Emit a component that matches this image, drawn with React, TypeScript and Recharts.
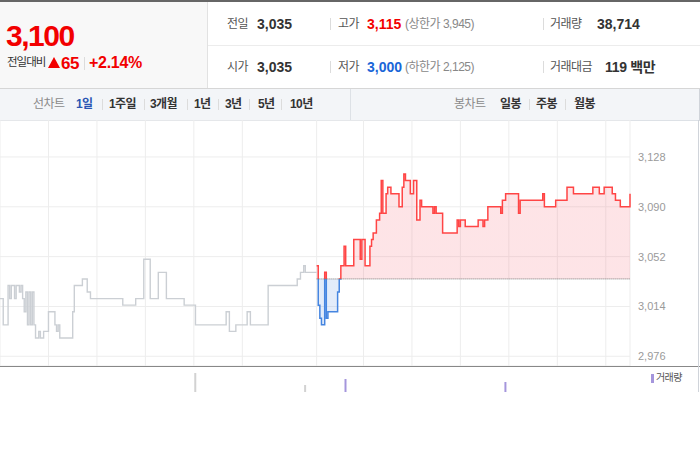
import React from "react";
import {
  Area,
  Bar,
  CartesianGrid,
  Cell,
  ComposedChart,
  Line,
  ReferenceLine,
  XAxis,
  YAxis
} from "recharts";

// minutes from the left edge of the chart, price in won
const prevTimes = [0, 2, 5, 6, 7, 9, 10, 12, 13, 14, 15, 16, 17, 18, 19, 20, 21, 22, 24, 25, 27, 30, 34, 35, 36, 37, 45, 46, 51, 54, 56, 76, 84, 89, 93, 98, 103, 114, 121, 140, 142, 146, 153, 155, 166, 184, 186, 188, 189, 196];
const prevPrices = [3020, 3000, 3030, 3020, 3030, 3020, 3030, 3025, 3030, 3020, 3010, 3025, 3000, 3025, 3000, 3025, 3000, 2990, 2995, 2990, 2995, 3010, 3000, 2995, 3000, 2990, 3010, 3030, 3035, 3025, 3020, 3015, 3020, 3050, 3020, 3040, 3020, 3015, 3000, 3010, 2995, 3000, 3010, 3000, 3030, 3035, 3040, 3045, 3040, 3040];

const todayTimes = [196, 197, 198, 199, 201, 202, 203, 209, 210, 211, 213, 214, 219, 223, 224, 226, 229, 230, 231, 233, 235, 236, 237, 239, 240, 242, 247, 249, 250, 251, 254, 256, 258, 260, 261, 268, 269, 270, 274, 283, 284, 285, 288, 296, 299, 300, 302, 310, 311, 313, 321, 322, 336, 337, 344, 351, 355, 367, 371, 374, 379, 381, 384, 390];
const todayPrices = [3045, 3015, 3005, 3000, 3040, 3005, 3010, 3025, 3035, 3045, 3060, 3045, 3065, 3050, 3065, 3045, 3060, 3065, 3070, 3080, 3085, 3110, 3085, 3100, 3105, 3100, 3090, 3105, 3115, 3110, 3100, 3110, 3080, 3095, 3090, 3085, 3090, 3085, 3070, 3080, 3075, 3080, 3075, 3080, 3075, 3080, 3090, 3085, 3095, 3100, 3085, 3095, 3100, 3090, 3095, 3105, 3100, 3105, 3100, 3105, 3100, 3095, 3090, 3100];

const volTimes = [121, 189, 214, 313];
const volValues = [18000, 14000, 16000, 15000];

const PREV_CLOSE = 3035;
const OPEN_MIN = 196;
const END_MIN = 390;
const yTicks = [2976, 3014, 3052, 3090, 3128];
const xGridTicks = [30, 60, 90, 120, 150, 180, 196, 225, 255, 285, 315, 345, 375];

const prevData = prevTimes.map((t, i) => ({ t, p: prevPrices[i] }));
const todayData = todayTimes.map((t, i) => ({ t, p: todayPrices[i] }));
const volData = volTimes.map((t, i) => ({ t, v: volValues[i] }));

const hi = Math.max(...todayPrices);
const lo = Math.min(...todayPrices);
const splitOff = (hi - PREV_CLOSE) / (hi - lo);

const RED = "#f20000";
const BLUE = "#1a66d8";

type TxtProps = {
  x: number;
  y: number;
  size?: number;
  color?: string;
  bold?: boolean;
  ls?: number;
  children: React.ReactNode;
};

function Txt({ x, y, size = 12, color = "#333", bold, ls, children }: TxtProps) {
  return (
    <span
      style={{
        position: "absolute",
        left: x,
        top: y,
        transform: "translateY(-50%)",
        fontSize: size,
        color,
        fontWeight: bold ? 700 : 400,
        lineHeight: 1,
        whiteSpace: "nowrap",
        letterSpacing: ls
      }}
    >
      {children}
    </span>
  );
}

function Sep({ x, y, h = 12, color = "#dcdcdc" }: { x: number; y: number; h?: number; color?: string }) {
  return <div style={{ position: "absolute", left: x, top: y - h / 2, width: 1, height: h, background: color }} />;
}

function Header() {
  return (
    <>
      <div style={{ position: "absolute", left: 0, top: 0, width: 700, height: 2, background: "#666" }} />
      <div style={{ position: "absolute", left: 0, top: 2, width: 207, height: 86, background: "#f8f8f8", borderRight: "1px solid #e2e2e2" }} />
      <div style={{ position: "absolute", left: 208, top: 45, width: 492, height: 1, background: "#ececec" }} />
      <div style={{ position: "absolute", left: 0, top: 88, width: 700, height: 1, background: "#d6d6d6" }} />

      <Txt x={6} y={36} size={30} color={RED} bold ls={-1.5}>3,100</Txt>
      <Txt x={7} y={63} size={11.5} color="#333" ls={-1}>전일대비</Txt>
      {/* up arrow */}
      <div
        style={{
          position: "absolute",
          left: 48,
          top: 57,
          width: 0,
          height: 0,
          borderLeft: "6px solid transparent",
          borderRight: "6px solid transparent",
          borderBottom: `11px solid ${RED}`
        }}
      />
      <Txt x={61} y={63} size={17} color={RED} bold ls={-0.5}>65</Txt>
      <Sep x={84} y={63} h={13} />
      <Txt x={89} y={63} size={16} color={RED} bold ls={-0.3}>+2.14%</Txt>

      <Txt x={227} y={24} color="#555" ls={-0.5}>전일</Txt>
      <Txt x={257} y={24} size={14} bold>3,035</Txt>
      <Sep x={330} y={24} />
      <Txt x={338} y={24} color="#555" ls={-0.5}>고가</Txt>
      <Txt x={367} y={24} size={14} bold color={RED}>3,115</Txt>
      <Txt x={405} y={24} size={12} color="#888" ls={-0.5}>(상한가 3,945)</Txt>
      <Sep x={543} y={24} />
      <Txt x={550} y={24} color="#555" ls={-0.5}>거래량</Txt>
      <Txt x={597} y={24} size={14} bold>38,714</Txt>

      <Txt x={227} y={67} color="#555" ls={-0.5}>시가</Txt>
      <Txt x={257} y={67} size={14} bold>3,035</Txt>
      <Sep x={330} y={67} />
      <Txt x={338} y={67} color="#555" ls={-0.5}>저가</Txt>
      <Txt x={367} y={67} size={14} bold color={BLUE}>3,000</Txt>
      <Txt x={405} y={67} size={12} color="#888" ls={-0.5}>(하한가 2,125)</Txt>
      <Sep x={543} y={67} />
      <Txt x={550} y={67} color="#555" ls={-0.5}>거래대금</Txt>
      <Txt x={605} y={67} size={14} bold ls={-0.3}>119 백만</Txt>
    </>
  );
}

function Tabs() {
  const y = 104;
  return (
    <>
      <div style={{ position: "absolute", left: 0, top: 89, width: 699, height: 31, background: "#f3f5f8", borderBottom: "1px solid #dde1e6", borderRight: "1px solid #d0d4da" }} />
      <div style={{ position: "absolute", left: 350, top: 89, width: 1, height: 31, background: "#dde1e6" }} />
      <Txt x={33} y={y} color="#8a8a8a" ls={-0.6}>선차트</Txt>
      <Txt x={76} y={y} color="#2a55b3" bold ls={-0.6}>1일</Txt>
      <Sep x={102} y={y} h={11} />
      <Txt x={109} y={y} color="#333" bold ls={-0.6}>1주일</Txt>
      <Sep x={144} y={y} h={11} />
      <Txt x={150} y={y} color="#333" bold ls={-0.6}>3개월</Txt>
      <Sep x={187} y={y} h={11} />
      <Txt x={194} y={y} color="#333" bold ls={-0.6}>1년</Txt>
      <Sep x={218} y={y} h={11} />
      <Txt x={225} y={y} color="#333" bold ls={-0.6}>3년</Txt>
      <Sep x={249} y={y} h={11} />
      <Txt x={258} y={y} color="#333" bold ls={-0.6}>5년</Txt>
      <Sep x={281} y={y} h={11} />
      <Txt x={290} y={y} color="#333" bold ls={-0.6}>10년</Txt>

      <Txt x={454} y={y} color="#8a8a8a" ls={-0.6}>봉차트</Txt>
      <Txt x={500} y={y} color="#333" bold ls={-0.6}>일봉</Txt>
      <Sep x={529} y={y} h={11} />
      <Txt x={536} y={y} color="#333" bold ls={-0.6}>주봉</Txt>
      <Sep x={565} y={y} h={11} />
      <Txt x={574} y={y} color="#333" bold ls={-0.6}>월봉</Txt>
    </>
  );
}

function PriceChart() {
  return (
    <div style={{ position: "absolute", left: 0, top: 120, width: 700, height: 246 }}>
      <ComposedChart width={700} height={246} margin={{ top: 0, right: 0, bottom: 0, left: 0 }}>
        <defs>
          <linearGradient id="lineSplit" x1="0" y1="0" x2="0" y2="1">
            <stop offset={splitOff} stopColor="#ff4545" />
            <stop offset={splitOff} stopColor="#4585e0" />
          </linearGradient>
          <linearGradient id="fillSplit" x1="0" y1="0" x2="0" y2="1">
            <stop offset={splitOff} stopColor="#f56070" stopOpacity={0.17} />
            <stop offset={splitOff} stopColor="#5a8fe0" stopOpacity={0.17} />
          </linearGradient>
        </defs>
        <CartesianGrid stroke="#ededed" />
        <XAxis type="number" dataKey="t" domain={[0, END_MIN]} ticks={xGridTicks} hide />
        <YAxis
          orientation="right"
          type="number"
          domain={[2968.6, 3156.2]}
          ticks={yTicks}
          width={70}
          axisLine={false}
          tickLine={false}
          allowDataOverflow
          tick={{ fill: "#9a9a9a", fontSize: 11 }}
          tickFormatter={(v: number) => v.toLocaleString("en-US")}
        />
        <Line
          data={prevData}
          dataKey="p"
          type="stepAfter"
          stroke="#cbcfd4"
          strokeWidth={1.4}
          dot={false}
          activeDot={false}
          isAnimationActive={false}
        />
        <Area
          data={todayData}
          dataKey="p"
          type="stepAfter"
          baseValue={PREV_CLOSE}
          stroke="url(#lineSplit)"
          strokeWidth={1.5}
          fill="url(#fillSplit)"
          fillOpacity={1}
          dot={false}
          activeDot={false}
          isAnimationActive={false}
        />
        <ReferenceLine
          segment={[
            { x: OPEN_MIN, y: PREV_CLOSE },
            { x: END_MIN, y: PREV_CLOSE }
          ]}
          stroke="#777"
          strokeDasharray="1 1"
        />
      </ComposedChart>
    </div>
  );
}

function VolumeChart() {
  return (
    <>
      <div style={{ position: "absolute", left: 0, top: 366, width: 700, height: 1, background: "#888" }} />
      <div style={{ position: "absolute", left: 698, top: 120, width: 1, height: 272, background: "#d0d4da" }} />
      <div style={{ position: "absolute", left: 0, top: 367, width: 630, height: 25, overflow: "hidden" }}>
        <ComposedChart width={630} height={60} data={volData} margin={{ top: 0, right: 0, bottom: 0, left: 0 }}>
          <XAxis type="number" dataKey="t" domain={[0, END_MIN]} hide />
          <YAxis type="number" domain={[0, 20000]} hide />
          <Bar dataKey="v" barSize={2} isAnimationActive={false}>
            {volData.map((d) => (
              <Cell key={d.t} fill={d.t >= OPEN_MIN ? "#a596dc" : "#d2d2d2"} />
            ))}
          </Bar>
        </ComposedChart>
      </div>
      <div style={{ position: "absolute", left: 651, top: 374, width: 3, height: 9, background: "#a596dc" }} />
      <Txt x={656} y={378} size={10} color="#555" ls={-0.6}>거래량</Txt>
    </>
  );
}

export default function App() {
  return (
    <>
      <style>{"body{margin:0}"}</style>
      <div
        style={{
          position: "relative",
          width: 700,
          height: 450,
          overflow: "hidden",
          background: "#fff",
          fontFamily: "'Liberation Sans', 'Noto Sans CJK KR', sans-serif"
        }}
      >
        <Header />
        <Tabs />
        <PriceChart />
        <VolumeChart />
      </div>
    </>
  );
}
